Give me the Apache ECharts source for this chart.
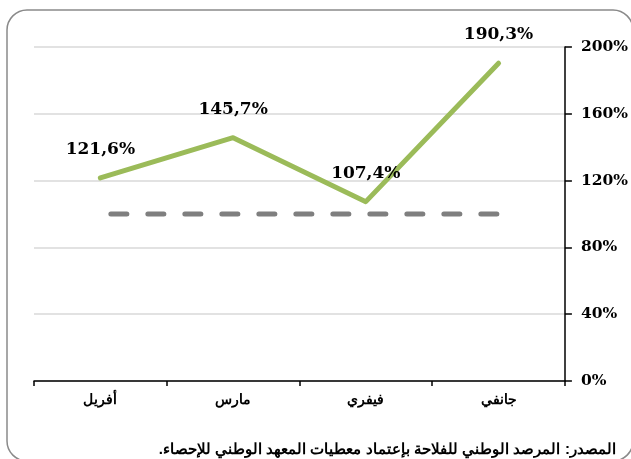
<!DOCTYPE html>
<html>
<head>
<meta charset="utf-8">
<script src="https://cdn.jsdelivr.net/npm/echarts@6/dist/echarts.min.js"></script>
<style>
  html, body { margin: 0; padding: 0; background: #fff; }
  #chart { width: 631px; height: 459px; }
</style>
</head>
<body>
<div id="chart"></div>
<script>
// data
const months = ['أفريل', 'مارس', 'فيفري', 'جانفي']
const rates = [121.6, 145.7, 107.4, 190.3]
const reference = [100, 100, 100, 100]
const yTicks = [0, 40, 80, 120, 160, 200]
const sourceLabel = 'المصدر:\u200F'
const sourceText = 'المرصد الوطني للفلاحة بإعتماد معطيات المعهد الوطني للإحصاء.\u200F'

const serif = 'DejaVu Serif'
const myChart = echarts.init(document.getElementById('chart'))

const option = {
    animation: false,
    backgroundColor: '#fff',
    grid: { left: 34, right: 65, top: 47, bottom: 78 },
    title: {
        text: '{n|' + sourceText + '} {b|' + sourceLabel + '}',
        right: 10,
        top: 436,
        textStyle: {
            rich: {
                n: { fontFamily: 'Liberation Sans', fontSize: 15, color: '#000' },
                b: { fontFamily: 'Liberation Sans', fontSize: 15, fontWeight: 'bold', color: '#000' }
            }
        }
    },
    graphic: [{
        type: 'rect',
        shape: { x: 7, y: 10, width: 626, height: 451, r: 20 },
        style: { fill: 'none', stroke: '#8a8a8a', lineWidth: 1.5 },
        silent: true,
        z: -1
    }],
    xAxis: {
        type: 'category',
        data: months,
        boundaryGap: true,
        axisLine: { lineStyle: { color: '#000', width: 1.5 } },
        axisTick: { show: true, length: 5, lineStyle: { color: '#000', width: 1.5 } },
        axisLabel: {
            margin: 12,
            fontFamily: 'Liberation Sans',
            fontSize: 14,
            fontWeight: 'bold',
            color: '#000'
        }
    },
    yAxis: {
        type: 'value',
        position: 'right',
        min: yTicks[0],
        max: yTicks[yTicks.length - 1],
        interval: yTicks[1] - yTicks[0],
        axisLine: { show: true, lineStyle: { color: '#000', width: 1.5 } },
        axisTick: { show: true, length: 7, lineStyle: { color: '#000', width: 1.5 } },
        axisLabel: {
            margin: 16,
            formatter: '{value}%',
            fontFamily: serif,
            fontSize: 15.5,
            fontWeight: 'bold',
            color: '#000'
        },
        splitLine: { lineStyle: { color: '#d9d9d9', width: 1.5 } }
    },
    series: [
        {
            name: 'ref',
            type: 'line',
            data: reference,
            symbol: 'none',
            silent: true,
            z: 2,
            lineStyle: {
                color: '#7f7f7f',
                width: 5,
                type: [16, 21],
                dashOffset: 26.5,
                cap: 'round'
            }
        },
        {
            name: 'rate',
            type: 'line',
            data: rates,
            symbol: 'circle',
            symbolSize: 2,
            showSymbol: true,
            itemStyle: { color: '#9bbb59', borderWidth: 0 },
            z: 3,
            lineStyle: { color: '#9bbb59', width: 5, cap: 'round', join: 'round' },
            label: {
                show: true,
                position: 'top',
                distance: 19,
                formatter: function (p) {
                    return String(p.value).replace('.', ',') + '%'
                },
                fontFamily: serif,
                fontSize: 17,
                fontWeight: 'bold',
                color: '#000'
            }
        }
    ]
}

myChart.setOption(option)
</script>
</body>
</html>
